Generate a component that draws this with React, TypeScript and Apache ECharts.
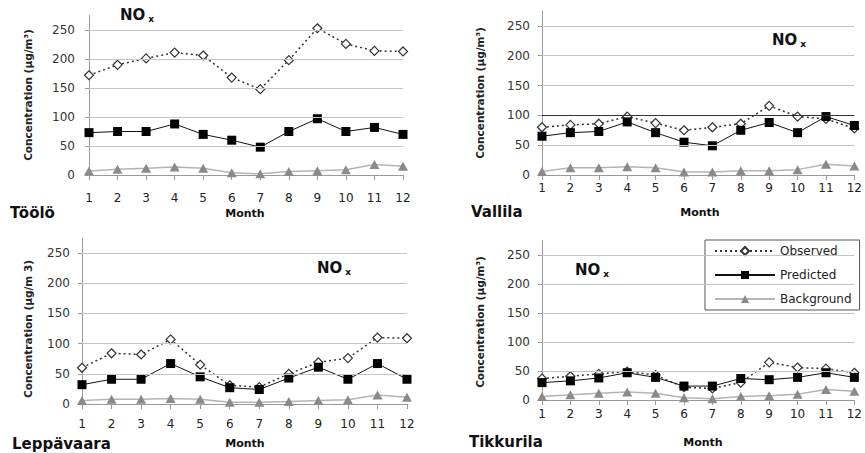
import React, { useEffect, useRef } from "react";
import * as echarts from "echarts";

const months = ["1", "2", "3", "4", "5", "6", "7", "8", "9", "10", "11", "12"];
const yTicks = [0, 50, 100, 150, 200, 250];
const gridValues = [50, 100, 150, 200, 250];

const tooloObserved = [172, 190, 201, 211, 206, 168, 148, 198, 253, 226, 214, 213];
const tooloPredicted = [73, 75, 75, 88, 70, 60, 48, 75, 97, 75, 82, 70];
const tooloBackground = [7, 10, 11.5, 14, 11.5, 4, 2, 6, 7.5, 9, 18, 15];

const vallilaObserved = [80, 84, 86, 98, 87, 75, 80, 86, 116, 98, 94, 78];
const vallilaPredicted = [65, 71, 73, 89, 71, 55, 49, 75, 88, 71, 98, 83];
const vallilaBackground = [6, 12, 12, 14, 12, 5, 5, 7, 7, 9, 18, 15];

const leppavaaraObserved = [60, 84, 82, 107, 65, 31, 28, 50, 69, 76, 110, 109];
const leppavaaraPredicted = [32, 41, 41, 67, 45, 27, 24, 43, 61, 41, 67, 41];
const leppavaaraBackground = [6, 8, 8, 9, 8, 3, 3, 4, 6, 7, 15, 11];

const tikkurilaObserved = [37, 41, 45, 49, 43, 22, 20, 30, 65, 56, 54, 47];
const tikkurilaPredicted = [30, 33, 38, 47, 39, 24, 24, 37, 35, 39, 47, 39];
const tikkurilaBackground = [6, 9, 11.5, 14, 11.5, 4, 2, 6, 7.5, 10, 18, 15];

const seriesNames = ["Observed", "Predicted", "Background"];

const FONT = "DejaVu Sans";

type Panel = {
  obs: number[];
  pred: number[];
  bg: number[];
  grid: { left: number; top: number; width: number; height: number };
  xMargin: number;
  yMargin: number;
  darkLine?: number;
};

const panels: Panel[] = [
  { obs: tooloObserved, pred: tooloPredicted, bg: tooloBackground, grid: { left: 89, top: 15.5, width: 314, height: 159.5 }, xMargin: 17, yMargin: 14 },
  { obs: vallilaObserved, pred: vallilaPredicted, bg: vallilaBackground, grid: { left: 542, top: 11, width: 318, height: 164 }, xMargin: 7, yMargin: 12, darkLine: 100 },
  { obs: leppavaaraObserved, pred: leppavaaraPredicted, bg: leppavaaraBackground, grid: { left: 82, top: 238, width: 325, height: 166 }, xMargin: 14, yMargin: 12 },
  { obs: tikkurilaObserved, pred: tikkurilaPredicted, bg: tikkurilaBackground, grid: { left: 542, top: 240.5, width: 321, height: 159.5 }, xMargin: 8, yMargin: 12 },
];

function noxText(x: number, y: number) {
  return {
    type: "text",
    x,
    y,
    style: {
      text: "NO{sub|x}",
      fill: "#111",
      font: `bold 15px "${FONT}"`,
      verticalAlign: "middle",
      rich: {
        sub: { font: `bold 9px "${FONT}"`, fill: "#111", padding: [8, 0, 0, 3] },
      },
    },
  };
}

function label(text: string, x: number, y: number, size: number, align = "left", bold = true) {
  return {
    type: "text",
    x,
    y,
    style: {
      text,
      fill: "#111",
      font: `${bold ? "bold " : ""}${size}px "${FONT}"`,
      align,
      verticalAlign: "middle",
    },
  };
}

function yTitle(text: string, x: number, y: number) {
  return {
    type: "text",
    x,
    y,
    rotation: Math.PI / 2,
    style: {
      text,
      fill: "#222",
      font: `bold 10.5px "${FONT}"`,
      align: "center",
      verticalAlign: "middle",
    },
  };
}

export default function App() {
  const ref = useRef<HTMLDivElement>(null);

  useEffect(() => {
    if (!ref.current) return;
    const chart = echarts.init(ref.current, null, { renderer: "svg" });

    const grids = panels.map((p) => ({ ...p.grid, containLabel: false }));
    const xAxes = panels.map((p, i) => ({
      type: "category",
      gridIndex: i,
      data: months,
      boundaryGap: false,
      axisLine: { lineStyle: { color: "#999", width: 1 } },
      axisTick: { show: true, alignWithLabel: true, length: 5, lineStyle: { color: "#999" } },
      axisLabel: { margin: p.xMargin, color: "#222", fontSize: 12, fontFamily: FONT },
      splitLine: { show: false },
    }));
    const yAxes = panels.map((p, i) => ({
      type: "value",
      gridIndex: i,
      min: 0,
      max: 275,
      interval: 25,
      axisLine: { show: true, lineStyle: { color: "#999", width: 1 } },
      axisTick: { show: true, length: 4, lineStyle: { color: "#999" }, customValues: yTicks },
      axisLabel: { margin: p.yMargin, color: "#333", fontSize: 12, fontFamily: FONT, customValues: yTicks },
      splitLine: { show: false },
    }));

    const series: any[] = [];
    panels.forEach((p, i) => {
      series.push({
        name: "Background",
        type: "line",
        xAxisIndex: i,
        yAxisIndex: i,
        data: p.bg,
        z: 1,
        symbol: "triangle",
        symbolSize: [10, 9],
        itemStyle: { color: "#8a8a8a" },
        lineStyle: { color: "#b4b4b4", width: 1.5 },
        markLine: {
          silent: true,
          symbol: ["none", "none"],
          label: { show: false },
          lineStyle: { color: "#c4c4c4", width: 1, type: "solid" },
          data: gridValues.map((v) =>
            v === p.darkLine ? { yAxis: v, lineStyle: { color: "#333", width: 1, type: "solid" } } : { yAxis: v }
          ),
        },
      });
      series.push({
        name: "Observed",
        type: "line",
        xAxisIndex: i,
        yAxisIndex: i,
        data: p.obs,
        z: 3,
        symbol: "diamond",
        symbolSize: [9, 9],
        itemStyle: { color: "#fff", borderColor: "#333", borderWidth: 1.2 },
        lineStyle: { color: "#333", width: 1.5, type: [2, 3] },
      });
      series.push({
        name: "Predicted",
        type: "line",
        xAxisIndex: i,
        yAxisIndex: i,
        data: p.pred,
        z: 4,
        symbol: "rect",
        symbolSize: 9,
        itemStyle: { color: "#000" },
        lineStyle: { color: "#111", width: 1 },
      });
    });

    const graphic = [
      noxText(120, 15),
      noxText(772, 40),
      noxText(317, 268),
      noxText(575, 270),
      label("Töölö", 10, 213, 15),
      label("Vallila", 471, 212, 15),
      label("Leppävaara", 12, 444, 15),
      label("Tikkurila", 469, 442, 15),
      label("Month", 245, 213, 11, "center"),
      label("Month", 700, 212, 11, "center"),
      label("Month", 245, 443, 11, "center"),
      label("Month", 703, 442, 11, "center"),
      yTitle("Concentration (µg/m³)", 28, 95),
      yTitle("Concentration (µg/m³)", 480, 93),
      yTitle("Concentration (µg/m 3)", 28, 329),
      yTitle("Concentration (µg/m³)", 480, 322),
    ];

    chart.setOption({
      animation: false,
      backgroundColor: "#fff",
      grid: grids,
      xAxis: xAxes,
      yAxis: yAxes,
      series,
      graphic,
      legend: {
        data: seriesNames,
        orient: "vertical",
        left: 705,
        top: 240,
        itemWidth: 60,
        itemHeight: 10,
        itemGap: 12,
        padding: [5, 8, 5, 9],
        backgroundColor: "#fff",
        borderColor: "#555",
        borderWidth: 1,
        borderRadius: 0,
        selectedMode: false,
        textStyle: { color: "#222", fontSize: 12, fontFamily: FONT },
      },
    });

    return () => chart.dispose();
  }, []);

  return (
    <div
      ref={ref}
      style={{ position: "absolute", left: 0, top: 0, width: 865, height: 453 }}
    />
  );
}
